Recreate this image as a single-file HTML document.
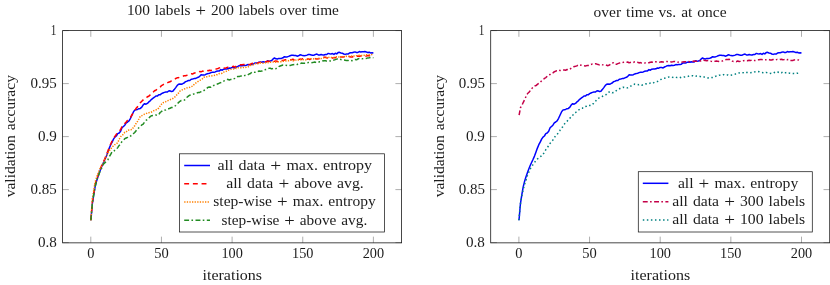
<!DOCTYPE html>
<html><head><meta charset="utf-8"><title>plots</title>
<style>html,body{margin:0;padding:0;background:#fff;}body{width:830px;height:285px;overflow:hidden;font-family:"Liberation Serif",serif;}svg{display:block;}</style>
</head><body>
<svg width="830" height="285" viewBox="0 0 830 285">
<defs><filter id="gs" x="0" y="0" width="830" height="285" filterUnits="userSpaceOnUse" color-interpolation-filters="sRGB"><feGaussianBlur stdDeviation="0.33"/></filter></defs>
<rect width="830" height="285" fill="#ffffff"/>
<g font-family="'Liberation Serif', serif" font-size="14px" fill="#1c1c1c" filter="url(#gs)" word-spacing="1px">
<path d="M90.80,242.85 v-6.2 M90.80,30.6 v6.2 M62.60,242.60 h6.2 M401.60,242.60 h-6.2 M161.45,242.85 v-6.2 M161.45,30.6 v6.2 M62.60,189.60 h6.2 M401.60,189.60 h-6.2 M232.10,242.85 v-6.2 M232.10,30.6 v6.2 M62.60,136.60 h6.2 M401.60,136.60 h-6.2 M302.75,242.85 v-6.2 M302.75,30.6 v6.2 M62.60,83.60 h6.2 M401.60,83.60 h-6.2 M373.40,242.85 v-6.2 M373.40,30.6 v6.2 M62.60,30.60 h6.2 M401.60,30.60 h-6.2" stroke="#777" stroke-width="0.6" fill="none"/>
<rect x="62.60" y="30.6" width="339.00" height="212.25" fill="none" stroke="#1a1a1a" stroke-width="0.8"/>
<text x="87.2" y="258.3" text-anchor="start" textLength="7.2" lengthAdjust="spacingAndGlyphs">0</text>
<text x="154.2" y="258.3" text-anchor="start" textLength="14.5" lengthAdjust="spacingAndGlyphs">50</text>
<text x="221.4" y="258.3" text-anchor="start" textLength="21.4" lengthAdjust="spacingAndGlyphs">100</text>
<text x="292.1" y="258.3" text-anchor="start" textLength="21.4" lengthAdjust="spacingAndGlyphs">150</text>
<text x="362.7" y="258.3" text-anchor="start" textLength="21.4" lengthAdjust="spacingAndGlyphs">200</text>
<text x="37.9" y="247.3" text-anchor="start" textLength="18.9" lengthAdjust="spacingAndGlyphs">0.8</text>
<text x="30.6" y="194.3" text-anchor="start" textLength="26.2" lengthAdjust="spacingAndGlyphs">0.85</text>
<text x="37.9" y="141.3" text-anchor="start" textLength="18.9" lengthAdjust="spacingAndGlyphs">0.9</text>
<text x="30.6" y="88.3" text-anchor="start" textLength="26.2" lengthAdjust="spacingAndGlyphs">0.95</text>
<text x="50.7" y="35.3" text-anchor="start" textLength="5.6" lengthAdjust="spacingAndGlyphs">1</text>
<text x="202.5" y="279.7" text-anchor="start" textLength="59.6" lengthAdjust="spacingAndGlyphs">iterations</text>
<text transform="translate(15.4,197.3) rotate(-90)" textLength="122.2" lengthAdjust="spacingAndGlyphs">validation accuracy</text>
<text x="126.9" y="14.7" text-anchor="start" textLength="212.0" lengthAdjust="spacingAndGlyphs">100 labels <tspan font-size="17px" dy="1">+</tspan><tspan dy="-1"> 200 labels over time</tspan></text>
<path d="M90.9,220.2 L92.3,204.0 L93.7,194.9 L95.1,186.9 L96.6,180.9 L98.0,176.5 L99.4,172.6 L100.8,168.7 L102.2,165.3 L103.6,162.3 L105.0,159.3 L106.4,156.1 L107.9,152.1 L109.3,148.1 L110.7,144.7 L112.1,142.2 L113.5,139.1 L114.9,137.1 L116.3,136.0 L117.7,133.6 L119.2,133.0 L120.6,131.2 L122.0,127.8 L123.4,126.5 L124.8,125.2 L126.2,122.9 L127.6,122.0 L129.0,120.9 L130.5,118.3 L131.9,115.2 L133.3,112.2 L134.7,110.1 L136.1,109.7 L137.5,109.4 L138.9,108.7 L140.3,108.4 L141.8,107.1 L143.2,104.8 L144.6,103.7 L146.0,104.2 L147.4,103.4 L148.8,101.9 L150.2,100.8 L151.6,99.3 L153.1,98.2 L154.5,97.2 L155.9,96.0 L157.3,96.1 L158.7,94.8 L160.1,94.8 L161.5,93.7 L162.9,93.0 L164.4,92.4 L165.8,92.0 L167.2,92.1 L168.6,91.0 L170.0,90.8 L171.4,91.5 L172.8,91.3 L174.2,89.6 L175.7,87.6 L177.1,85.6 L178.5,84.3 L179.9,84.1 L181.3,84.3 L182.7,83.7 L184.1,83.0 L185.5,81.6 L187.0,81.2 L188.4,80.5 L189.8,80.5 L191.2,79.3 L192.6,79.0 L194.0,78.6 L195.4,78.5 L196.8,77.9 L198.2,77.3 L199.7,76.3 L201.1,74.8 L202.5,74.9 L203.9,75.1 L205.3,74.7 L206.7,73.9 L208.1,73.6 L209.6,73.2 L211.0,72.6 L212.4,72.2 L213.8,72.2 L215.2,71.9 L216.6,71.3 L218.0,71.1 L219.4,70.9 L220.9,69.6 L222.3,70.2 L223.7,69.2 L225.1,69.1 L226.5,69.1 L227.9,68.8 L229.3,67.9 L230.7,68.2 L232.2,67.4 L233.6,67.6 L235.0,67.9 L236.4,67.0 L237.8,66.4 L239.2,65.7 L240.6,65.5 L242.0,65.7 L243.5,65.2 L244.9,65.4 L246.3,65.2 L247.7,64.6 L249.1,64.8 L250.5,64.5 L251.9,64.4 L253.3,64.2 L254.8,63.0 L256.2,62.9 L257.6,63.1 L259.0,62.2 L260.4,62.1 L261.8,62.3 L263.2,61.7 L264.6,62.1 L266.1,62.0 L267.5,60.8 L268.9,61.2 L270.3,61.0 L271.7,60.5 L273.1,58.9 L274.5,58.0 L275.9,58.8 L277.4,59.0 L278.8,58.4 L280.2,58.5 L281.6,58.2 L283.0,57.8 L284.4,56.7 L285.8,57.0 L287.2,56.9 L288.6,56.4 L290.1,55.7 L291.5,55.3 L292.9,55.3 L294.3,55.6 L295.7,55.5 L297.1,56.2 L298.5,55.8 L300.0,54.8 L301.4,55.1 L302.8,55.6 L304.2,55.8 L305.6,55.6 L307.0,55.1 L308.4,54.5 L309.8,54.6 L311.2,54.9 L312.7,55.2 L314.1,55.2 L315.5,54.4 L316.9,54.1 L318.3,54.9 L319.7,55.0 L321.1,54.5 L322.6,54.9 L324.0,55.0 L325.4,54.5 L326.8,54.5 L328.2,53.4 L329.6,53.8 L331.0,53.9 L332.4,53.6 L333.9,54.4 L335.3,53.3 L336.7,53.9 L338.1,52.6 L339.5,52.3 L340.9,53.0 L342.3,53.2 L343.7,54.0 L345.2,54.4 L346.6,53.9 L348.0,54.1 L349.4,53.1 L350.8,52.8 L352.2,52.7 L353.6,52.3 L355.0,51.9 L356.5,52.5 L357.9,52.4 L359.3,51.6 L360.7,51.9 L362.1,51.7 L363.5,51.8 L364.9,51.6 L366.3,51.9 L367.8,52.6 L369.2,52.3 L370.6,52.9 L372.0,52.8 L373.4,53.0" fill="none" stroke="#0000ff" stroke-width="1.5" stroke-linejoin="round"/>
<path d="M90.9,220.2 L92.3,202.4 L93.7,193.9 L95.1,185.0 L96.6,179.2 L98.0,175.5 L99.4,171.7 L100.8,168.2 L102.2,164.2 L103.6,161.6 L105.0,158.3 L106.4,154.5 L107.9,151.1 L109.3,147.0 L110.7,144.1 L112.1,141.0 L113.5,138.5 L114.9,136.4 L116.3,134.3 L117.7,133.0 L119.2,131.7 L120.6,129.5 L122.0,126.6 L123.4,125.6 L124.8,123.6 L126.2,122.0 L127.6,120.2 L129.0,119.0 L130.5,117.4 L131.9,115.0 L133.3,112.5 L134.7,110.8 L136.1,108.3 L137.5,106.9 L138.9,104.8 L140.3,102.8 L141.8,101.3 L143.2,99.9 L144.6,98.6 L146.0,98.1 L147.4,96.8 L148.8,96.2 L150.2,94.9 L151.6,93.0 L153.1,92.2 L154.5,90.8 L155.9,90.2 L157.3,89.0 L158.7,88.0 L160.1,87.3 L161.5,85.6 L162.9,84.8 L164.4,83.9 L165.8,83.0 L167.2,83.0 L168.6,82.2 L170.0,81.8 L171.4,80.9 L172.8,80.0 L174.2,79.9 L175.7,78.5 L177.1,77.8 L178.5,77.7 L179.9,77.0 L181.3,76.6 L182.7,76.6 L184.1,75.7 L185.5,75.7 L187.0,75.2 L188.4,74.6 L189.8,74.0 L191.2,73.8 L192.6,74.0 L194.0,73.2 L195.4,72.7 L196.8,72.4 L198.2,72.6 L199.7,71.6 L201.1,71.8 L202.5,71.1 L203.9,71.4 L205.3,70.8 L206.7,70.2 L208.1,70.8 L209.6,70.2 L211.0,70.4 L212.4,70.1 L213.8,69.6 L215.2,69.4 L216.6,68.9 L218.0,68.5 L219.4,67.9 L220.9,67.4 L222.3,68.1 L223.7,67.9 L225.1,68.3 L226.5,67.6 L227.9,67.2 L229.3,67.2 L230.7,67.1 L232.2,66.7 L233.6,66.3 L235.0,67.1 L236.4,65.9 L237.8,65.4 L239.2,64.7 L240.6,64.7 L242.0,64.7 L243.5,64.6 L244.9,64.5 L246.3,64.9 L247.7,64.8 L249.1,64.6 L250.5,64.2 L251.9,63.4 L253.3,63.3 L254.8,63.2 L256.2,63.0 L257.6,63.1 L259.0,62.4 L260.4,62.5 L261.8,62.0 L263.2,62.2 L264.6,61.6 L266.1,61.7 L267.5,61.3 L268.9,61.2 L270.3,61.6 L271.7,61.2 L273.1,61.6 L274.5,61.3 L275.9,60.9 L277.4,61.5 L278.8,60.9 L280.2,61.3 L281.6,60.4 L283.0,60.6 L284.4,60.0 L285.8,59.8 L287.2,60.0 L288.6,59.6 L290.1,59.7 L291.5,59.8 L292.9,59.3 L294.3,59.9 L295.7,59.9 L297.1,59.3 L298.5,59.5 L300.0,59.1 L301.4,59.4 L302.8,58.7 L304.2,59.0 L305.6,59.2 L307.0,59.2 L308.4,58.8 L309.8,59.5 L311.2,58.9 L312.7,59.3 L314.1,59.0 L315.5,58.6 L316.9,59.0 L318.3,58.8 L319.7,58.4 L321.1,58.3 L322.6,57.5 L324.0,57.2 L325.4,57.3 L326.8,57.8 L328.2,57.9 L329.6,58.1 L331.0,58.4 L332.4,58.0 L333.9,57.6 L335.3,57.8 L336.7,57.4 L338.1,57.4 L339.5,57.6 L340.9,56.9 L342.3,57.1 L343.7,56.9 L345.2,56.5 L346.6,56.7 L348.0,57.1 L349.4,56.6 L350.8,56.9 L352.2,57.0 L353.6,56.4 L355.0,56.8 L356.5,56.4 L357.9,56.1 L359.3,56.2 L360.7,55.9 L362.1,56.2 L363.5,55.8 L364.9,56.3 L366.3,56.0 L367.8,55.6 L369.2,55.7 L370.6,55.9 L372.0,55.7 L373.4,55.3" fill="none" stroke="#ff0000" stroke-width="1.5" stroke-linejoin="round" stroke-dasharray="4.9 3.78"/>
<path d="M90.9,220.2 L92.3,198.8 L93.7,190.7 L95.1,182.2 L96.6,177.5 L98.0,173.5 L99.4,169.8 L100.8,167.1 L102.2,164.7 L103.6,162.3 L105.0,159.4 L106.4,156.3 L107.9,153.2 L109.3,150.8 L110.7,149.1 L112.1,147.1 L113.5,145.9 L114.9,144.6 L116.3,143.8 L117.7,142.6 L119.2,139.3 L120.6,136.7 L122.0,135.4 L123.4,134.3 L124.8,132.3 L126.2,131.8 L127.6,130.3 L129.0,130.0 L130.5,129.7 L131.9,129.6 L133.3,127.6 L134.7,125.7 L136.1,123.4 L137.5,121.5 L138.9,119.0 L140.3,116.3 L141.8,115.7 L143.2,115.0 L144.6,114.1 L146.0,113.7 L147.4,112.9 L148.8,112.7 L150.2,112.5 L151.6,112.0 L153.1,110.9 L154.5,110.4 L155.9,109.9 L157.3,109.4 L158.7,108.0 L160.1,106.1 L161.5,104.2 L162.9,102.7 L164.4,102.5 L165.8,101.7 L167.2,100.8 L168.6,100.4 L170.0,99.7 L171.4,99.2 L172.8,98.5 L174.2,97.6 L175.7,96.3 L177.1,94.5 L178.5,93.1 L179.9,91.1 L181.3,90.4 L182.7,89.7 L184.1,89.0 L185.5,88.7 L187.0,87.9 L188.4,87.5 L189.8,87.3 L191.2,86.7 L192.6,86.1 L194.0,84.6 L195.4,83.3 L196.8,82.3 L198.2,81.4 L199.7,80.4 L201.1,79.9 L202.5,78.7 L203.9,77.2 L205.3,76.7 L206.7,76.8 L208.1,76.4 L209.6,76.1 L211.0,76.0 L212.4,75.7 L213.8,75.5 L215.2,75.3 L216.6,74.7 L218.0,74.6 L219.4,73.5 L220.9,73.5 L222.3,73.3 L223.7,72.1 L225.1,71.7 L226.5,71.1 L227.9,70.2 L229.3,70.1 L230.7,69.4 L232.2,69.0 L233.6,69.0 L235.0,68.0 L236.4,68.5 L237.8,67.8 L239.2,67.8 L240.6,67.8 L242.0,67.8 L243.5,67.4 L244.9,67.7 L246.3,67.3 L247.7,67.1 L249.1,66.3 L250.5,65.4 L251.9,65.1 L253.3,64.7 L254.8,63.9 L256.2,63.4 L257.6,63.7 L259.0,63.3 L260.4,62.8 L261.8,63.4 L263.2,63.3 L264.6,62.8 L266.1,62.7 L267.5,62.6 L268.9,62.7 L270.3,62.2 L271.7,62.3 L273.1,62.0 L274.5,62.0 L275.9,62.2 L277.4,62.0 L278.8,61.8 L280.2,61.8 L281.6,61.8 L283.0,61.2 L284.4,61.3 L285.8,60.9 L287.2,60.6 L288.6,60.7 L290.1,60.1 L291.5,60.1 L292.9,60.7 L294.3,60.7 L295.7,60.1 L297.1,60.6 L298.5,59.8 L300.0,59.8 L301.4,59.6 L302.8,59.7 L304.2,59.6 L305.6,59.9 L307.0,59.4 L308.4,59.1 L309.8,59.1 L311.2,58.8 L312.7,58.7 L314.1,58.9 L315.5,58.9 L316.9,58.6 L318.3,58.6 L319.7,58.2 L321.1,58.6 L322.6,58.2 L324.0,57.9 L325.4,58.0 L326.8,57.6 L328.2,57.5 L329.6,57.2 L331.0,57.6 L332.4,57.1 L333.9,57.6 L335.3,57.1 L336.7,56.8 L338.1,57.1 L339.5,57.1 L340.9,57.1 L342.3,56.4 L343.7,56.8 L345.2,56.8 L346.6,56.2 L348.0,56.3 L349.4,56.3 L350.8,55.9 L352.2,56.3 L353.6,56.1 L355.0,56.1 L356.5,55.7 L357.9,55.7 L359.3,55.3 L360.7,55.3 L362.1,55.6 L363.5,55.7 L364.9,54.9 L366.3,54.7 L367.8,54.7 L369.2,54.8 L370.6,55.0 L372.0,54.5 L373.4,54.6" fill="none" stroke="#ff8000" stroke-width="1.5" stroke-linejoin="round" stroke-dasharray="1.3 1.3"/>
<path d="M90.9,220.2 L92.3,204.3 L93.7,195.0 L95.1,186.7 L96.6,180.9 L98.0,176.9 L99.4,173.0 L100.8,170.0 L102.2,166.8 L103.6,163.9 L105.0,162.6 L106.4,161.2 L107.9,159.8 L109.3,156.8 L110.7,154.3 L112.1,151.8 L113.5,151.4 L114.9,150.2 L116.3,149.4 L117.7,147.6 L119.2,145.4 L120.6,143.9 L122.0,141.3 L123.4,140.3 L124.8,138.7 L126.2,138.0 L127.6,137.4 L129.0,136.3 L130.5,136.0 L131.9,135.2 L133.3,133.8 L134.7,132.5 L136.1,130.7 L137.5,129.0 L138.9,127.7 L140.3,126.5 L141.8,124.9 L143.2,124.1 L144.6,122.0 L146.0,120.4 L147.4,119.5 L148.8,118.0 L150.2,116.6 L151.6,115.7 L153.1,115.5 L154.5,115.3 L155.9,115.0 L157.3,115.2 L158.7,114.9 L160.1,112.5 L161.5,111.5 L162.9,110.6 L164.4,109.9 L165.8,110.0 L167.2,108.9 L168.6,108.7 L170.0,108.3 L171.4,107.5 L172.8,107.4 L174.2,106.6 L175.7,105.5 L177.1,104.3 L178.5,102.6 L179.9,101.3 L181.3,100.5 L182.7,100.4 L184.1,100.2 L185.5,99.4 L187.0,97.3 L188.4,96.1 L189.8,95.2 L191.2,94.7 L192.6,94.3 L194.0,93.9 L195.4,93.6 L196.8,92.9 L198.2,92.6 L199.7,92.4 L201.1,91.7 L202.5,91.5 L203.9,90.5 L205.3,89.7 L206.7,88.5 L208.1,87.2 L209.6,87.0 L211.0,87.2 L212.4,86.6 L213.8,85.4 L215.2,85.1 L216.6,84.2 L218.0,83.8 L219.4,83.1 L220.9,82.5 L222.3,81.6 L223.7,81.2 L225.1,80.2 L226.5,79.8 L227.9,79.3 L229.3,80.0 L230.7,79.4 L232.2,79.7 L233.6,78.9 L235.0,78.4 L236.4,77.2 L237.8,76.5 L239.2,76.5 L240.6,76.1 L242.0,76.1 L243.5,76.1 L244.9,75.4 L246.3,75.8 L247.7,75.1 L249.1,74.0 L250.5,73.5 L251.9,72.1 L253.3,72.0 L254.8,72.3 L256.2,71.5 L257.6,71.7 L259.0,71.0 L260.4,71.2 L261.8,71.0 L263.2,70.1 L264.6,69.8 L266.1,69.5 L267.5,69.1 L268.9,68.3 L270.3,68.3 L271.7,68.9 L273.1,68.5 L274.5,69.1 L275.9,68.7 L277.4,67.7 L278.8,66.6 L280.2,66.0 L281.6,65.5 L283.0,65.0 L284.4,65.0 L285.8,65.2 L287.2,65.4 L288.6,65.1 L290.1,65.5 L291.5,65.1 L292.9,64.8 L294.3,64.6 L295.7,64.9 L297.1,64.5 L298.5,63.7 L300.0,63.8 L301.4,63.1 L302.8,63.2 L304.2,63.2 L305.6,63.2 L307.0,62.7 L308.4,62.5 L309.8,62.8 L311.2,62.8 L312.7,62.6 L314.1,62.1 L315.5,62.3 L316.9,62.5 L318.3,62.3 L319.7,61.7 L321.1,61.8 L322.6,61.0 L324.0,60.7 L325.4,60.7 L326.8,61.1 L328.2,61.2 L329.6,60.9 L331.0,61.0 L332.4,60.2 L333.9,60.1 L335.3,59.6 L336.7,59.1 L338.1,58.6 L339.5,59.2 L340.9,59.5 L342.3,59.8 L343.7,60.1 L345.2,60.2 L346.6,60.6 L348.0,60.4 L349.4,60.8 L350.8,60.5 L352.2,60.7 L353.6,59.9 L355.0,59.5 L356.5,59.8 L357.9,59.0 L359.3,58.4 L360.7,58.7 L362.1,58.8 L363.5,58.6 L364.9,58.6 L366.3,58.4 L367.8,57.9 L369.2,57.7 L370.6,57.4 L372.0,57.5 L373.4,57.7" fill="none" stroke="#228b22" stroke-width="1.5" stroke-linejoin="round" stroke-dasharray="4.9 2.35 1.6 2.45"/>
<rect x="179.5" y="153.8" width="204.9" height="78.2" fill="#fff" stroke="#1a1a1a" stroke-width="0.75"/>
<path d="M184.2,165.5 H210.0" stroke="#0000ff" stroke-width="1.5" fill="none"/>
<text x="217.4" y="169.7" text-anchor="start" textLength="154.6" lengthAdjust="spacingAndGlyphs">all data <tspan font-size="17px" dy="1">+</tspan><tspan dy="-1"> max. entropy</tspan></text>
<path d="M184.2,183.8 H210.0" stroke="#ff0000" stroke-width="1.5" fill="none" stroke-dasharray="4.9 3.78"/>
<text x="226.2" y="188.0" text-anchor="start" textLength="137.6" lengthAdjust="spacingAndGlyphs">all data <tspan font-size="17px" dy="1">+</tspan><tspan dy="-1"> above avg.</tspan></text>
<path d="M184.2,202.1 H210.0" stroke="#ff8000" stroke-width="1.5" fill="none" stroke-dasharray="1.3 1.3"/>
<text x="213.3" y="206.3" text-anchor="start" textLength="162.5" lengthAdjust="spacingAndGlyphs">step-wise <tspan font-size="17px" dy="1">+</tspan><tspan dy="-1"> max. entropy</tspan></text>
<path d="M184.2,220.3 H210.0" stroke="#228b22" stroke-width="1.5" fill="none" stroke-dasharray="4.9 2.35 1.6 2.45"/>
<text x="221.5" y="224.5" text-anchor="start" textLength="145.8" lengthAdjust="spacingAndGlyphs">step-wise <tspan font-size="17px" dy="1">+</tspan><tspan dy="-1"> above avg.</tspan></text>
<path d="M518.90,242.85 v-6.2 M518.90,30.6 v6.2 M490.70,242.60 h6.2 M829.70,242.60 h-6.2 M589.55,242.85 v-6.2 M589.55,30.6 v6.2 M490.70,189.60 h6.2 M829.70,189.60 h-6.2 M660.20,242.85 v-6.2 M660.20,30.6 v6.2 M490.70,136.60 h6.2 M829.70,136.60 h-6.2 M730.85,242.85 v-6.2 M730.85,30.6 v6.2 M490.70,83.60 h6.2 M829.70,83.60 h-6.2 M801.50,242.85 v-6.2 M801.50,30.6 v6.2 M490.70,30.60 h6.2 M829.70,30.60 h-6.2" stroke="#777" stroke-width="0.6" fill="none"/>
<rect x="490.70" y="30.6" width="339.00" height="212.25" fill="none" stroke="#1a1a1a" stroke-width="0.8"/>
<text x="515.3" y="258.3" text-anchor="start" textLength="7.2" lengthAdjust="spacingAndGlyphs">0</text>
<text x="582.3" y="258.3" text-anchor="start" textLength="14.5" lengthAdjust="spacingAndGlyphs">50</text>
<text x="649.5" y="258.3" text-anchor="start" textLength="21.4" lengthAdjust="spacingAndGlyphs">100</text>
<text x="720.1" y="258.3" text-anchor="start" textLength="21.4" lengthAdjust="spacingAndGlyphs">150</text>
<text x="790.8" y="258.3" text-anchor="start" textLength="21.4" lengthAdjust="spacingAndGlyphs">200</text>
<text x="466.0" y="247.3" text-anchor="start" textLength="18.9" lengthAdjust="spacingAndGlyphs">0.8</text>
<text x="458.7" y="194.3" text-anchor="start" textLength="26.2" lengthAdjust="spacingAndGlyphs">0.85</text>
<text x="466.0" y="141.3" text-anchor="start" textLength="18.9" lengthAdjust="spacingAndGlyphs">0.9</text>
<text x="458.7" y="88.3" text-anchor="start" textLength="26.2" lengthAdjust="spacingAndGlyphs">0.95</text>
<text x="478.8" y="35.3" text-anchor="start" textLength="5.6" lengthAdjust="spacingAndGlyphs">1</text>
<text x="630.6" y="279.7" text-anchor="start" textLength="59.6" lengthAdjust="spacingAndGlyphs">iterations</text>
<text transform="translate(443.5,197.3) rotate(-90)" textLength="122.2" lengthAdjust="spacingAndGlyphs">validation accuracy</text>
<text x="593.6" y="16.6" text-anchor="start" textLength="133.0" lengthAdjust="spacingAndGlyphs">over time vs. at once</text>
<path d="M519.0,220.2 L520.4,204.0 L521.8,194.9 L523.2,186.9 L524.7,180.9 L526.1,176.5 L527.5,172.6 L528.9,168.7 L530.3,165.3 L531.7,162.3 L533.1,159.3 L534.5,156.1 L536.0,152.1 L537.4,148.1 L538.8,144.7 L540.2,142.2 L541.6,139.1 L543.0,137.1 L544.4,136.0 L545.8,133.6 L547.2,133.0 L548.7,131.2 L550.1,127.8 L551.5,126.5 L552.9,125.2 L554.3,122.9 L555.7,122.0 L557.1,120.9 L558.6,118.3 L560.0,115.2 L561.4,112.2 L562.8,110.1 L564.2,109.7 L565.6,109.4 L567.0,108.7 L568.4,108.4 L569.9,107.1 L571.3,104.8 L572.7,103.7 L574.1,104.2 L575.5,103.4 L576.9,101.9 L578.3,100.8 L579.7,99.3 L581.2,98.2 L582.6,97.2 L584.0,96.0 L585.4,96.1 L586.8,94.8 L588.2,94.8 L589.6,93.7 L591.0,93.0 L592.5,92.4 L593.9,92.0 L595.3,92.1 L596.7,91.0 L598.1,90.8 L599.5,91.5 L600.9,91.3 L602.3,89.6 L603.8,87.6 L605.2,85.6 L606.6,84.3 L608.0,84.1 L609.4,84.3 L610.8,83.7 L612.2,83.0 L613.6,81.6 L615.1,81.2 L616.5,80.5 L617.9,80.5 L619.3,79.3 L620.7,79.0 L622.1,78.6 L623.5,78.5 L624.9,77.9 L626.4,77.3 L627.8,76.3 L629.2,74.8 L630.6,74.9 L632.0,75.1 L633.4,74.7 L634.8,73.9 L636.2,73.6 L637.7,73.2 L639.1,72.6 L640.5,72.2 L641.9,72.2 L643.3,71.9 L644.7,71.3 L646.1,71.1 L647.5,70.9 L649.0,69.6 L650.4,70.2 L651.8,69.2 L653.2,69.1 L654.6,69.1 L656.0,68.8 L657.4,67.9 L658.8,68.2 L660.2,67.4 L661.7,67.6 L663.1,67.9 L664.5,67.0 L665.9,66.4 L667.3,65.7 L668.7,65.5 L670.1,65.7 L671.6,65.2 L673.0,65.4 L674.4,65.2 L675.8,64.6 L677.2,64.8 L678.6,64.5 L680.0,64.4 L681.4,64.2 L682.9,63.0 L684.3,62.9 L685.7,63.1 L687.1,62.2 L688.5,62.1 L689.9,62.3 L691.3,61.7 L692.7,62.1 L694.2,62.0 L695.6,60.8 L697.0,61.2 L698.4,61.0 L699.8,60.5 L701.2,58.9 L702.6,58.0 L704.0,58.8 L705.5,59.0 L706.9,58.4 L708.3,58.5 L709.7,58.2 L711.1,57.8 L712.5,56.7 L713.9,57.0 L715.3,56.9 L716.8,56.4 L718.2,55.7 L719.6,55.3 L721.0,55.3 L722.4,55.6 L723.8,55.5 L725.2,56.2 L726.6,55.8 L728.1,54.8 L729.5,55.1 L730.9,55.6 L732.3,55.8 L733.7,55.6 L735.1,55.1 L736.5,54.5 L737.9,54.6 L739.4,54.9 L740.8,55.2 L742.2,55.2 L743.6,54.4 L745.0,54.1 L746.4,54.9 L747.8,55.0 L749.2,54.5 L750.7,54.9 L752.1,55.0 L753.5,54.5 L754.9,54.5 L756.3,53.4 L757.7,53.8 L759.1,53.9 L760.5,53.6 L762.0,54.4 L763.4,53.3 L764.8,53.9 L766.2,52.6 L767.6,52.3 L769.0,53.0 L770.4,53.2 L771.8,54.0 L773.2,54.4 L774.7,53.9 L776.1,54.1 L777.5,53.1 L778.9,52.8 L780.3,52.7 L781.7,52.3 L783.1,51.9 L784.6,52.5 L786.0,52.4 L787.4,51.6 L788.8,51.9 L790.2,51.7 L791.6,51.8 L793.0,51.6 L794.4,51.9 L795.9,52.6 L797.3,52.3 L798.7,52.9 L800.1,52.8 L801.5,53.0" fill="none" stroke="#0000ff" stroke-width="1.5" stroke-linejoin="round"/>
<path d="M519.1,115.2 L520.5,107.7 L521.9,105.4 L523.3,102.3 L524.7,99.4 L526.2,96.1 L527.6,93.5 L529.0,92.3 L530.4,90.4 L531.8,88.5 L533.2,87.2 L534.6,85.9 L536.0,85.6 L537.4,84.4 L538.8,83.4 L540.3,82.2 L541.7,80.8 L543.1,80.0 L544.5,78.3 L545.9,77.6 L547.3,76.1 L548.7,75.1 L550.1,74.5 L551.5,73.3 L553.0,72.8 L554.4,71.7 L555.8,71.1 L557.2,70.8 L558.6,70.2 L560.0,70.5 L561.4,70.6 L562.8,70.0 L564.2,70.0 L565.6,70.2 L567.1,69.5 L568.5,69.8 L569.9,69.1 L571.3,68.2 L572.7,67.7 L574.1,66.6 L575.5,66.3 L576.9,65.9 L578.3,64.8 L579.8,64.9 L581.2,65.2 L582.6,65.6 L584.0,65.7 L585.4,66.0 L586.8,65.6 L588.2,65.5 L589.6,65.0 L591.0,64.4 L592.4,64.1 L593.9,64.1 L595.3,63.8 L596.7,64.1 L598.1,64.5 L599.5,64.9 L600.9,64.4 L602.3,64.7 L603.7,64.9 L605.1,64.7 L606.6,65.2 L608.0,65.7 L609.4,65.0 L610.8,64.2 L612.2,63.0 L613.6,62.7 L615.0,64.2 L616.4,64.3 L617.8,63.6 L619.2,63.1 L620.7,62.9 L622.1,62.8 L623.5,62.3 L624.9,62.0 L626.3,62.4 L627.7,62.0 L629.1,62.8 L630.5,62.4 L631.9,62.2 L633.4,62.4 L634.8,61.8 L636.2,62.0 L637.6,62.3 L639.0,62.9 L640.4,62.6 L641.8,63.0 L643.2,63.0 L644.6,63.1 L646.0,62.5 L647.5,62.9 L648.9,62.8 L650.3,62.2 L651.7,62.1 L653.1,62.2 L654.5,62.3 L655.9,61.7 L657.3,62.1 L658.7,62.2 L660.2,62.1 L661.6,61.8 L663.0,62.1 L664.4,61.9 L665.8,61.6 L667.2,61.6 L668.6,61.8 L670.0,61.8 L671.4,61.9 L672.8,61.8 L674.3,61.4 L675.7,61.7 L677.1,62.2 L678.5,62.1 L679.9,61.9 L681.3,62.4 L682.7,61.9 L684.1,61.7 L685.5,61.8 L686.9,61.6 L688.4,61.5 L689.8,61.7 L691.2,61.8 L692.6,61.4 L694.0,61.1 L695.4,61.3 L696.8,61.2 L698.2,61.1 L699.6,60.7 L701.1,61.0 L702.5,60.4 L703.9,60.2 L705.3,60.6 L706.7,60.8 L708.1,60.5 L709.5,60.6 L710.9,61.1 L712.3,61.5 L713.7,61.1 L715.2,61.3 L716.6,61.0 L718.0,61.4 L719.4,61.1 L720.8,61.0 L722.2,61.1 L723.6,60.6 L725.0,59.9 L726.4,59.5 L727.9,59.4 L729.3,59.3 L730.7,60.0 L732.1,61.1 L733.5,61.4 L734.9,61.5 L736.3,61.7 L737.7,61.0 L739.1,61.5 L740.5,61.3 L742.0,61.0 L743.4,60.7 L744.8,60.4 L746.2,60.4 L747.6,60.7 L749.0,60.3 L750.4,60.6 L751.8,60.1 L753.2,60.5 L754.7,60.5 L756.1,60.3 L757.5,59.9 L758.9,59.8 L760.3,59.6 L761.7,59.5 L763.1,59.9 L764.5,59.6 L765.9,59.8 L767.3,59.4 L768.8,59.5 L770.2,60.0 L771.6,60.1 L773.0,59.5 L774.4,60.1 L775.8,59.9 L777.2,59.4 L778.6,59.8 L780.0,59.4 L781.5,59.3 L782.9,59.7 L784.3,59.5 L785.7,59.0 L787.1,59.7 L788.5,59.5 L789.9,60.5 L791.3,60.5 L792.7,60.6 L794.1,59.9 L795.6,59.8 L797.0,59.9 L798.4,59.9 L799.8,60.5 L801.2,60.4" fill="none" stroke="#c40048" stroke-width="1.5" stroke-linejoin="round" stroke-dasharray="4.9 2.35 1.6 2.45"/>
<path d="M518.9,220.2 L520.3,204.7 L521.7,196.4 L523.1,190.1 L524.5,184.5 L526.0,180.3 L527.4,175.5 L528.8,172.2 L530.2,169.1 L531.6,166.1 L533.0,164.7 L534.4,162.9 L535.8,160.5 L537.3,159.1 L538.7,157.9 L540.1,156.8 L541.5,155.9 L542.9,154.6 L544.3,152.3 L545.7,149.9 L547.1,148.1 L548.5,145.8 L550.0,143.5 L551.4,141.8 L552.8,140.2 L554.2,137.6 L555.6,136.0 L557.0,134.7 L558.4,132.5 L559.8,130.6 L561.2,128.5 L562.7,126.8 L564.1,124.4 L565.5,122.7 L566.9,121.4 L568.3,119.9 L569.7,118.4 L571.1,116.7 L572.5,115.6 L574.0,113.6 L575.4,112.7 L576.8,111.5 L578.2,110.5 L579.6,109.2 L581.0,108.4 L582.4,108.3 L583.8,106.9 L585.2,106.5 L586.7,106.2 L588.1,105.3 L589.5,105.4 L590.9,105.6 L592.3,104.4 L593.7,103.3 L595.1,102.1 L596.5,99.9 L597.9,98.6 L599.4,97.8 L600.8,97.2 L602.2,96.5 L603.6,95.6 L605.0,94.8 L606.4,94.5 L607.8,92.8 L609.2,92.0 L610.7,91.8 L612.1,92.8 L613.5,92.6 L614.9,91.6 L616.3,90.7 L617.7,89.9 L619.1,89.0 L620.5,88.2 L621.9,88.0 L623.4,87.2 L624.8,87.6 L626.2,88.0 L627.6,87.8 L629.0,87.5 L630.4,86.3 L631.8,85.4 L633.2,85.1 L634.6,84.1 L636.1,84.3 L637.5,84.5 L638.9,84.8 L640.3,84.6 L641.7,85.3 L643.1,84.7 L644.5,84.2 L645.9,83.8 L647.4,84.0 L648.8,83.6 L650.2,83.1 L651.6,82.8 L653.0,83.2 L654.4,82.2 L655.8,81.9 L657.2,81.6 L658.6,80.9 L660.1,79.7 L661.5,79.2 L662.9,78.5 L664.3,78.3 L665.7,77.9 L667.1,77.5 L668.5,77.1 L669.9,77.1 L671.3,76.9 L672.8,77.4 L674.2,77.1 L675.6,77.0 L677.0,77.6 L678.4,77.9 L679.8,77.8 L681.2,77.2 L682.6,77.3 L684.1,77.0 L685.5,76.9 L686.9,76.6 L688.3,76.3 L689.7,75.9 L691.1,75.7 L692.5,75.7 L693.9,76.4 L695.3,76.2 L696.8,76.1 L698.2,76.1 L699.6,76.3 L701.0,76.9 L702.4,76.7 L703.8,76.9 L705.2,77.4 L706.6,77.6 L708.0,78.0 L709.5,77.7 L710.9,77.4 L712.3,77.6 L713.7,77.3 L715.1,76.4 L716.5,76.1 L717.9,75.9 L719.3,75.2 L720.8,75.4 L722.2,75.0 L723.6,74.6 L725.0,75.2 L726.4,75.1 L727.8,74.9 L729.2,75.4 L730.6,75.2 L732.0,74.9 L733.5,74.7 L734.9,74.3 L736.3,73.5 L737.7,73.4 L739.1,72.9 L740.5,73.2 L741.9,72.9 L743.3,72.7 L744.7,73.2 L746.2,72.5 L747.6,72.5 L749.0,72.8 L750.4,72.7 L751.8,72.4 L753.2,72.6 L754.6,71.9 L756.0,71.8 L757.5,71.8 L758.9,71.6 L760.3,72.2 L761.7,72.6 L763.1,72.7 L764.5,72.9 L765.9,72.4 L767.3,72.8 L768.7,73.3 L770.2,73.4 L771.6,73.3 L773.0,73.3 L774.4,72.5 L775.8,72.0 L777.2,71.6 L778.6,72.4 L780.0,72.0 L781.4,72.7 L782.9,72.0 L784.3,72.8 L785.7,72.7 L787.1,72.4 L788.5,73.1 L789.9,73.2 L791.3,73.4 L792.7,73.5 L794.2,73.6 L795.6,73.8 L797.0,73.3 L798.4,73.1 L799.8,72.1" fill="none" stroke="#008080" stroke-width="1.5" stroke-linejoin="round" stroke-dasharray="1.5 2.55"/>
<rect x="638.3" y="171.7" width="174.0" height="60.3" fill="#fff" stroke="#1a1a1a" stroke-width="0.75"/>
<path d="M642.8,183.3 H668.4" stroke="#0000ff" stroke-width="1.5" fill="none"/>
<text x="677.9" y="187.5" text-anchor="start" textLength="120.4" lengthAdjust="spacingAndGlyphs">all <tspan font-size="17px" dy="1">+</tspan><tspan dy="-1"> max. entropy</tspan></text>
<path d="M642.8,201.7 H668.4" stroke="#c40048" stroke-width="1.5" fill="none" stroke-dasharray="4.9 2.35 1.6 2.45"/>
<text x="672.2" y="205.9" text-anchor="start" textLength="133.0" lengthAdjust="spacingAndGlyphs">all data <tspan font-size="17px" dy="1">+</tspan><tspan dy="-1"> 300 labels</tspan></text>
<path d="M642.8,220.0 H668.4" stroke="#008080" stroke-width="1.5" fill="none" stroke-dasharray="1.5 2.55"/>
<text x="672.2" y="224.2" text-anchor="start" textLength="133.0" lengthAdjust="spacingAndGlyphs">all data <tspan font-size="17px" dy="1">+</tspan><tspan dy="-1"> 100 labels</tspan></text>
</g></svg>
</body></html>
